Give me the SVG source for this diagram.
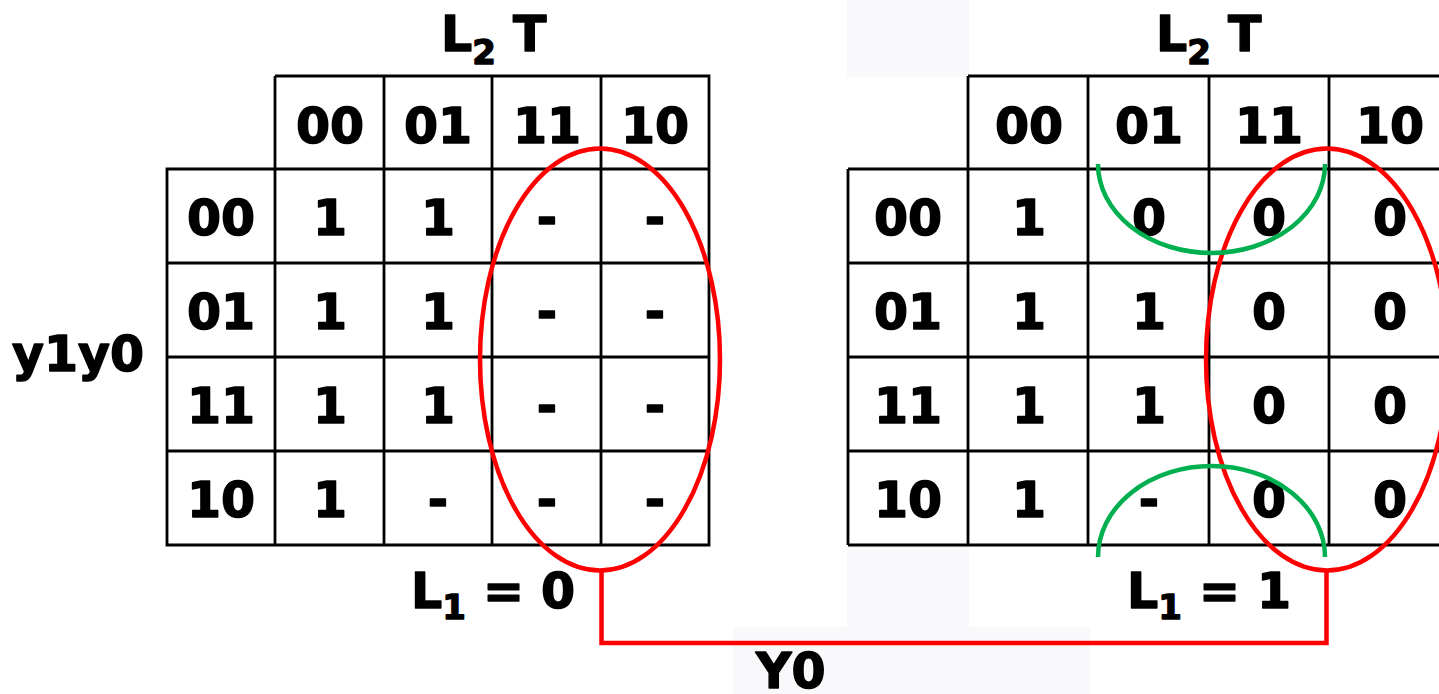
<svg xmlns="http://www.w3.org/2000/svg" width="1439" height="694" viewBox="0 0 1439 694">
<style>
.t{font-family:"DejaVu Sans",Verdana,sans-serif;font-weight:bold;font-size:49px;fill:#000;stroke:#000;stroke-width:1.4;stroke-linejoin:round}
.c{text-anchor:middle}
.g{fill:none;stroke:#000;stroke-width:2.8}
.red{fill:none;stroke:#ff0000;stroke-width:4.5}
.grn{fill:none;stroke:#00b050;stroke-width:4.5}
.bg{fill:#f9f9fb}
</style>
<rect width="1439" height="694" fill="#fff"/>
<rect class="bg" x="847" y="0" width="122" height="77"/>
<rect class="bg" x="847" y="545" width="122" height="82"/>
<rect class="bg" x="733" y="627" width="357" height="67"/>

<g id="left-map">
<path class="g" d="M275 76H709V545H167V169H709M167 263H709M167 357H709M167 451H709M275 76V545M384 76V545M492 76V545M601 76V545"/>
<text class="t" x="441" y="51" font-size="52">L<tspan font-size="34" dy="13">2</tspan><tspan dy="-13"> T</tspan></text>
<g class="t c">
<text x="330" y="143">00</text><text x="438" y="143">01</text><text x="547" y="143">11</text><text x="655" y="143">10</text>
<text x="221" y="235">00</text><text x="221" y="329">01</text><text x="221" y="423">11</text><text x="221" y="517">10</text>
<text x="330" y="235">1</text><text x="438" y="235">1</text><text x="547" y="235">-</text><text x="655" y="235">-</text>
<text x="330" y="329">1</text><text x="438" y="329">1</text><text x="547" y="329">-</text><text x="655" y="329">-</text>
<text x="330" y="423">1</text><text x="438" y="423">1</text><text x="547" y="423">-</text><text x="655" y="423">-</text>
<text x="330" y="517">1</text><text x="438" y="517">-</text><text x="547" y="517">-</text><text x="655" y="517">-</text>
</g>
<text class="t" x="411" y="608">L<tspan font-size="34" dy="11">1</tspan><tspan dy="-11"> = 0</tspan></text>
</g>

<g id="right-map">
<path class="g" d="M968 76H1439M848 169H1439M848 263H1439M848 357H1439M848 451H1439M848 545H1439M848 169V545M968 76V545M1088 76V545M1209 76V545M1329 76V545"/>
<text class="t" x="1156" y="51" font-size="52">L<tspan font-size="34" dy="13">2</tspan><tspan dy="-13"> T</tspan></text>
<g class="t c">
<text x="1029" y="143">00</text><text x="1149" y="143">01</text><text x="1269" y="143">11</text><text x="1390" y="143">10</text>
<text x="908" y="235">00</text><text x="908" y="329">01</text><text x="908" y="423">11</text><text x="908" y="517">10</text>
<text x="1029" y="235">1</text><text x="1149" y="235">0</text><text x="1269" y="235">0</text><text x="1390" y="235">0</text>
<text x="1029" y="329">1</text><text x="1149" y="329">1</text><text x="1269" y="329">0</text><text x="1390" y="329">0</text>
<text x="1029" y="423">1</text><text x="1149" y="423">1</text><text x="1269" y="423">0</text><text x="1390" y="423">0</text>
<text x="1029" y="517">1</text><text x="1149" y="517">-</text><text x="1269" y="517">0</text><text x="1390" y="517">0</text>
</g>
<text class="t" x="1127" y="608">L<tspan font-size="34" dy="11">1</tspan><tspan dy="-11"> = 1</tspan></text>
</g>

<g id="row-label">
<text class="t" x="12" y="371" font-size="46">y1y0</text>
</g>

<g id="groupings">
<ellipse class="red" cx="600" cy="359.5" rx="120" ry="211"/>
<ellipse class="red" cx="1327" cy="359.5" rx="121" ry="211"/>
<path class="grn" d="M1098 164A113.5 89 0 0 0 1325 164"/>
<path class="grn" d="M1098 557A113.5 91 0 0 1 1325 557"/>
</g>

<g id="connectors">
<path class="red" d="M601.5 570V643H1326.5V570"/>
</g>
<text class="t" x="756" y="688" font-size="48">Y0</text>
</svg>
